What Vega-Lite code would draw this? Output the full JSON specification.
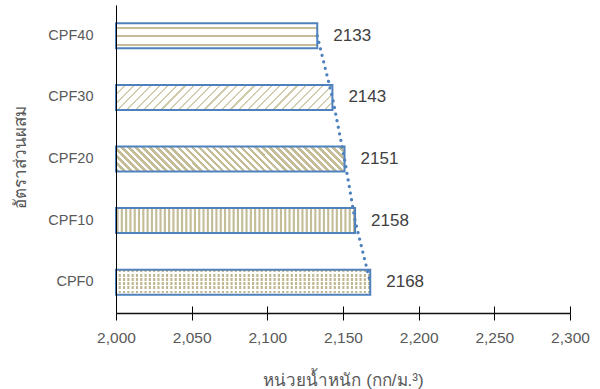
{
  "$schema": "https://vega.github.io/schema/vega-lite/v6.json",
  "width": 454,
  "height": 308,
  "autosize": {"type": "none"},
  "padding": {"left": 116, "top": 5, "right": 30, "bottom": 76},
  "background": "white",
  "config": {
    "view": {"stroke": null},
    "font": "Liberation Sans"
  },
  "data": {
    "values": [
      {"cat": "CPF0", "value": 2168},
      {"cat": "CPF10", "value": 2158},
      {"cat": "CPF20", "value": 2151},
      {"cat": "CPF30", "value": 2143},
      {"cat": "CPF40", "value": 2133}
    ]
  },
  "encoding": {
    "y": {
      "field": "cat",
      "type": "nominal",
      "sort": ["CPF40", "CPF30", "CPF20", "CPF10", "CPF0"],
      "scale": {"paddingInner": 0.5942, "paddingOuter": 0.2971},
      "axis": {
        "title": "อัตราส่วนผสม",
        "ticks": false,
        "domainColor": "#000",
        "labelPadding": 23,
        "labelFontSize": 14.5,
        "labelColor": "#595959",
        "titleFontSize": 17,
        "titleColor": "#595959",
        "titleFontWeight": "normal",
        "titleX": -96,
        "titleY": 152,
        "titleAngle": 270,
        "titleAlign": "center",
        "titleBaseline": "middle",
        "zindex": 1
      }
    },
    "x": {
      "field": "value",
      "type": "quantitative",
      "scale": {"domain": [2000, 2300], "nice": false, "zero": false},
      "axis": {
        "title": "หน่วยน้ำหนัก (กก/ม.³)",
        "values": [2000, 2050, 2100, 2150, 2200, 2250, 2300],
        "format": ",.0f",
        "domain": true,
        "domainWidth": 1.5,
        "domainColor": "#111",
        "grid": true,
        "gridColor": "#000",
        "gridDash": [7, 1000],
        "tickColor": "#000",
        "tickSize": 7,
        "labelFlush": false,
        "labelPadding": 10,
        "labelFontSize": 15.5,
        "labelColor": "#595959",
        "titleFontSize": 17,
        "titleColor": "#595959",
        "titleFontWeight": "normal",
        "titleX": 227,
        "titleY": 72,
        "titleAlign": "center",
        "titleBaseline": "alphabetic",
        "zindex": 1
      }
    }
  },
  "layer": [
    {
      "transform": [{"filter": "datum.cat === 'CPF40'"}],
      "mark": {
        "type": "bar",
        "fill": {
          "gradient": "linear", "x1": 0, "y1": 0, "x2": 0, "y2": 1,
          "stops": [
            {"offset": 0, "color": "#fff"}, {"offset": 0.13, "color": "#fff"},
            {"offset": 0.13, "color": "#c4bd97"}, {"offset": 0.21, "color": "#c4bd97"},
            {"offset": 0.21, "color": "#fff"}, {"offset": 0.47, "color": "#fff"},
            {"offset": 0.47, "color": "#c4bd97"}, {"offset": 0.55, "color": "#c4bd97"},
            {"offset": 0.55, "color": "#fff"}, {"offset": 0.81, "color": "#fff"},
            {"offset": 0.81, "color": "#c4bd97"}, {"offset": 0.89, "color": "#c4bd97"},
            {"offset": 0.89, "color": "#fff"}, {"offset": 1, "color": "#fff"}
          ]
        }
      },
      "encoding": {"x2": {"datum": 2000}}
    },
    {
      "transform": [{"filter": "datum.cat === 'CPF30'"}],
      "mark": {
        "type": "bar",
        "fill": {
          "gradient": "linear", "x1": 0, "y1": 0, "x2": 1.1008, "y2": 0.1271,
          "stops": [
            {"offset": 0, "color": "#d3cdb0"}, {"offset": 0.0089, "color": "#d3cdb0"}, {"offset": 0.0089, "color": "#fff"},
            {"offset": 0.0357, "color": "#fff"}, {"offset": 0.0357, "color": "#d3cdb0"}, {"offset": 0.0446, "color": "#d3cdb0"}, {"offset": 0.0446, "color": "#fff"},
            {"offset": 0.0714, "color": "#fff"}, {"offset": 0.0714, "color": "#d3cdb0"}, {"offset": 0.0804, "color": "#d3cdb0"}, {"offset": 0.0804, "color": "#fff"},
            {"offset": 0.1071, "color": "#fff"}, {"offset": 0.1071, "color": "#d3cdb0"}, {"offset": 0.1161, "color": "#d3cdb0"}, {"offset": 0.1161, "color": "#fff"},
            {"offset": 0.1429, "color": "#fff"}, {"offset": 0.1429, "color": "#d3cdb0"}, {"offset": 0.1518, "color": "#d3cdb0"}, {"offset": 0.1518, "color": "#fff"},
            {"offset": 0.1786, "color": "#fff"}, {"offset": 0.1786, "color": "#d3cdb0"}, {"offset": 0.1875, "color": "#d3cdb0"}, {"offset": 0.1875, "color": "#fff"},
            {"offset": 0.2143, "color": "#fff"}, {"offset": 0.2143, "color": "#d3cdb0"}, {"offset": 0.2232, "color": "#d3cdb0"}, {"offset": 0.2232, "color": "#fff"},
            {"offset": 0.25, "color": "#fff"}, {"offset": 0.25, "color": "#d3cdb0"}, {"offset": 0.2589, "color": "#d3cdb0"}, {"offset": 0.2589, "color": "#fff"},
            {"offset": 0.2857, "color": "#fff"}, {"offset": 0.2857, "color": "#d3cdb0"}, {"offset": 0.2946, "color": "#d3cdb0"}, {"offset": 0.2946, "color": "#fff"},
            {"offset": 0.3214, "color": "#fff"}, {"offset": 0.3214, "color": "#d3cdb0"}, {"offset": 0.3304, "color": "#d3cdb0"}, {"offset": 0.3304, "color": "#fff"},
            {"offset": 0.3571, "color": "#fff"}, {"offset": 0.3571, "color": "#d3cdb0"}, {"offset": 0.3661, "color": "#d3cdb0"}, {"offset": 0.3661, "color": "#fff"},
            {"offset": 0.3929, "color": "#fff"}, {"offset": 0.3929, "color": "#d3cdb0"}, {"offset": 0.4018, "color": "#d3cdb0"}, {"offset": 0.4018, "color": "#fff"},
            {"offset": 0.4286, "color": "#fff"}, {"offset": 0.4286, "color": "#d3cdb0"}, {"offset": 0.4375, "color": "#d3cdb0"}, {"offset": 0.4375, "color": "#fff"},
            {"offset": 0.4643, "color": "#fff"}, {"offset": 0.4643, "color": "#d3cdb0"}, {"offset": 0.4732, "color": "#d3cdb0"}, {"offset": 0.4732, "color": "#fff"},
            {"offset": 0.5, "color": "#fff"}, {"offset": 0.5, "color": "#d3cdb0"}, {"offset": 0.5089, "color": "#d3cdb0"}, {"offset": 0.5089, "color": "#fff"},
            {"offset": 0.5357, "color": "#fff"}, {"offset": 0.5357, "color": "#d3cdb0"}, {"offset": 0.5446, "color": "#d3cdb0"}, {"offset": 0.5446, "color": "#fff"},
            {"offset": 0.5714, "color": "#fff"}, {"offset": 0.5714, "color": "#d3cdb0"}, {"offset": 0.5804, "color": "#d3cdb0"}, {"offset": 0.5804, "color": "#fff"},
            {"offset": 0.6071, "color": "#fff"}, {"offset": 0.6071, "color": "#d3cdb0"}, {"offset": 0.6161, "color": "#d3cdb0"}, {"offset": 0.6161, "color": "#fff"},
            {"offset": 0.6429, "color": "#fff"}, {"offset": 0.6429, "color": "#d3cdb0"}, {"offset": 0.6518, "color": "#d3cdb0"}, {"offset": 0.6518, "color": "#fff"},
            {"offset": 0.6786, "color": "#fff"}, {"offset": 0.6786, "color": "#d3cdb0"}, {"offset": 0.6875, "color": "#d3cdb0"}, {"offset": 0.6875, "color": "#fff"},
            {"offset": 0.7143, "color": "#fff"}, {"offset": 0.7143, "color": "#d3cdb0"}, {"offset": 0.7232, "color": "#d3cdb0"}, {"offset": 0.7232, "color": "#fff"},
            {"offset": 0.75, "color": "#fff"}, {"offset": 0.75, "color": "#d3cdb0"}, {"offset": 0.7589, "color": "#d3cdb0"}, {"offset": 0.7589, "color": "#fff"},
            {"offset": 0.7857, "color": "#fff"}, {"offset": 0.7857, "color": "#d3cdb0"}, {"offset": 0.7946, "color": "#d3cdb0"}, {"offset": 0.7946, "color": "#fff"},
            {"offset": 0.8214, "color": "#fff"}, {"offset": 0.8214, "color": "#d3cdb0"}, {"offset": 0.8304, "color": "#d3cdb0"}, {"offset": 0.8304, "color": "#fff"},
            {"offset": 0.8571, "color": "#fff"}, {"offset": 0.8571, "color": "#d3cdb0"}, {"offset": 0.8661, "color": "#d3cdb0"}, {"offset": 0.8661, "color": "#fff"},
            {"offset": 0.8929, "color": "#fff"}, {"offset": 0.8929, "color": "#d3cdb0"}, {"offset": 0.9018, "color": "#d3cdb0"}, {"offset": 0.9018, "color": "#fff"},
            {"offset": 0.9286, "color": "#fff"}, {"offset": 0.9286, "color": "#d3cdb0"}, {"offset": 0.9375, "color": "#d3cdb0"}, {"offset": 0.9375, "color": "#fff"},
            {"offset": 0.9643, "color": "#fff"}, {"offset": 0.9643, "color": "#d3cdb0"}, {"offset": 0.9732, "color": "#d3cdb0"}, {"offset": 0.9732, "color": "#fff"},
            {"offset": 1, "color": "#fff"}
          ]
        }
      },
      "encoding": {"x2": {"datum": 2000}}
    },
    {
      "transform": [{"filter": "datum.cat === 'CPF20'"}],
      "mark": {
        "type": "bar",
        "fill": {
          "gradient": "linear", "x1": 0, "y1": 1, "x2": 1.0963, "y2": 0.8801,
          "stops": [
            {"offset": 0, "color": "#c4bd97"},
            {"offset": 0.0139, "color": "#c4bd97"}, {"offset": 0.0139, "color": "#fff"},
            {"offset": 0.0278, "color": "#fff"}, {"offset": 0.0278, "color": "#c4bd97"},
            {"offset": 0.0417, "color": "#c4bd97"}, {"offset": 0.0417, "color": "#fff"},
            {"offset": 0.0556, "color": "#fff"}, {"offset": 0.0556, "color": "#c4bd97"},
            {"offset": 0.0694, "color": "#c4bd97"}, {"offset": 0.0694, "color": "#fff"},
            {"offset": 0.0833, "color": "#fff"}, {"offset": 0.0833, "color": "#c4bd97"},
            {"offset": 0.0972, "color": "#c4bd97"}, {"offset": 0.0972, "color": "#fff"},
            {"offset": 0.1111, "color": "#fff"}, {"offset": 0.1111, "color": "#c4bd97"},
            {"offset": 0.125, "color": "#c4bd97"}, {"offset": 0.125, "color": "#fff"},
            {"offset": 0.1389, "color": "#fff"}, {"offset": 0.1389, "color": "#c4bd97"},
            {"offset": 0.1528, "color": "#c4bd97"}, {"offset": 0.1528, "color": "#fff"},
            {"offset": 0.1667, "color": "#fff"}, {"offset": 0.1667, "color": "#c4bd97"},
            {"offset": 0.1806, "color": "#c4bd97"}, {"offset": 0.1806, "color": "#fff"},
            {"offset": 0.1944, "color": "#fff"}, {"offset": 0.1944, "color": "#c4bd97"},
            {"offset": 0.2083, "color": "#c4bd97"}, {"offset": 0.2083, "color": "#fff"},
            {"offset": 0.2222, "color": "#fff"}, {"offset": 0.2222, "color": "#c4bd97"},
            {"offset": 0.2361, "color": "#c4bd97"}, {"offset": 0.2361, "color": "#fff"},
            {"offset": 0.25, "color": "#fff"}, {"offset": 0.25, "color": "#c4bd97"},
            {"offset": 0.2639, "color": "#c4bd97"}, {"offset": 0.2639, "color": "#fff"},
            {"offset": 0.2778, "color": "#fff"}, {"offset": 0.2778, "color": "#c4bd97"},
            {"offset": 0.2917, "color": "#c4bd97"}, {"offset": 0.2917, "color": "#fff"},
            {"offset": 0.3056, "color": "#fff"}, {"offset": 0.3056, "color": "#c4bd97"},
            {"offset": 0.3194, "color": "#c4bd97"}, {"offset": 0.3194, "color": "#fff"},
            {"offset": 0.3333, "color": "#fff"}, {"offset": 0.3333, "color": "#c4bd97"},
            {"offset": 0.3472, "color": "#c4bd97"}, {"offset": 0.3472, "color": "#fff"},
            {"offset": 0.3611, "color": "#fff"}, {"offset": 0.3611, "color": "#c4bd97"},
            {"offset": 0.375, "color": "#c4bd97"}, {"offset": 0.375, "color": "#fff"},
            {"offset": 0.3889, "color": "#fff"}, {"offset": 0.3889, "color": "#c4bd97"},
            {"offset": 0.4028, "color": "#c4bd97"}, {"offset": 0.4028, "color": "#fff"},
            {"offset": 0.4167, "color": "#fff"}, {"offset": 0.4167, "color": "#c4bd97"},
            {"offset": 0.4306, "color": "#c4bd97"}, {"offset": 0.4306, "color": "#fff"},
            {"offset": 0.4444, "color": "#fff"}, {"offset": 0.4444, "color": "#c4bd97"},
            {"offset": 0.4583, "color": "#c4bd97"}, {"offset": 0.4583, "color": "#fff"},
            {"offset": 0.4722, "color": "#fff"}, {"offset": 0.4722, "color": "#c4bd97"},
            {"offset": 0.4861, "color": "#c4bd97"}, {"offset": 0.4861, "color": "#fff"},
            {"offset": 0.5, "color": "#fff"}, {"offset": 0.5, "color": "#c4bd97"},
            {"offset": 0.5139, "color": "#c4bd97"}, {"offset": 0.5139, "color": "#fff"},
            {"offset": 0.5278, "color": "#fff"}, {"offset": 0.5278, "color": "#c4bd97"},
            {"offset": 0.5417, "color": "#c4bd97"}, {"offset": 0.5417, "color": "#fff"},
            {"offset": 0.5556, "color": "#fff"}, {"offset": 0.5556, "color": "#c4bd97"},
            {"offset": 0.5694, "color": "#c4bd97"}, {"offset": 0.5694, "color": "#fff"},
            {"offset": 0.5833, "color": "#fff"}, {"offset": 0.5833, "color": "#c4bd97"},
            {"offset": 0.5972, "color": "#c4bd97"}, {"offset": 0.5972, "color": "#fff"},
            {"offset": 0.6111, "color": "#fff"}, {"offset": 0.6111, "color": "#c4bd97"},
            {"offset": 0.625, "color": "#c4bd97"}, {"offset": 0.625, "color": "#fff"},
            {"offset": 0.6389, "color": "#fff"}, {"offset": 0.6389, "color": "#c4bd97"},
            {"offset": 0.6528, "color": "#c4bd97"}, {"offset": 0.6528, "color": "#fff"},
            {"offset": 0.6667, "color": "#fff"}, {"offset": 0.6667, "color": "#c4bd97"},
            {"offset": 0.6806, "color": "#c4bd97"}, {"offset": 0.6806, "color": "#fff"},
            {"offset": 0.6944, "color": "#fff"}, {"offset": 0.6944, "color": "#c4bd97"},
            {"offset": 0.7083, "color": "#c4bd97"}, {"offset": 0.7083, "color": "#fff"},
            {"offset": 0.7222, "color": "#fff"}, {"offset": 0.7222, "color": "#c4bd97"},
            {"offset": 0.7361, "color": "#c4bd97"}, {"offset": 0.7361, "color": "#fff"},
            {"offset": 0.75, "color": "#fff"}, {"offset": 0.75, "color": "#c4bd97"},
            {"offset": 0.7639, "color": "#c4bd97"}, {"offset": 0.7639, "color": "#fff"},
            {"offset": 0.7778, "color": "#fff"}, {"offset": 0.7778, "color": "#c4bd97"},
            {"offset": 0.7917, "color": "#c4bd97"}, {"offset": 0.7917, "color": "#fff"},
            {"offset": 0.8056, "color": "#fff"}, {"offset": 0.8056, "color": "#c4bd97"},
            {"offset": 0.8194, "color": "#c4bd97"}, {"offset": 0.8194, "color": "#fff"},
            {"offset": 0.8333, "color": "#fff"}, {"offset": 0.8333, "color": "#c4bd97"},
            {"offset": 0.8472, "color": "#c4bd97"}, {"offset": 0.8472, "color": "#fff"},
            {"offset": 0.8611, "color": "#fff"}, {"offset": 0.8611, "color": "#c4bd97"},
            {"offset": 0.875, "color": "#c4bd97"}, {"offset": 0.875, "color": "#fff"},
            {"offset": 0.8889, "color": "#fff"}, {"offset": 0.8889, "color": "#c4bd97"},
            {"offset": 0.9028, "color": "#c4bd97"}, {"offset": 0.9028, "color": "#fff"},
            {"offset": 0.9167, "color": "#fff"}, {"offset": 0.9167, "color": "#c4bd97"},
            {"offset": 0.9306, "color": "#c4bd97"}, {"offset": 0.9306, "color": "#fff"},
            {"offset": 0.9444, "color": "#fff"}, {"offset": 0.9444, "color": "#c4bd97"},
            {"offset": 0.9583, "color": "#c4bd97"}, {"offset": 0.9583, "color": "#fff"},
            {"offset": 0.9722, "color": "#fff"}, {"offset": 0.9722, "color": "#c4bd97"},
            {"offset": 0.9861, "color": "#c4bd97"}, {"offset": 0.9861, "color": "#fff"},
            {"offset": 1, "color": "#fff"}
          ]
        }
      },
      "encoding": {"x2": {"datum": 2000}}
    },
    {
      "transform": [{"filter": "datum.cat === 'CPF10'"}],
      "mark": {"type": "rule", "color": "#c4bd97", "strokeWidth": 25, "strokeDash": [2.15, 2.15]},
      "encoding": {"x2": {"datum": 2000}}
    },
    {
      "transform": [{"filter": "datum.cat === 'CPF0'"}],
      "mark": {"type": "rule", "color": "#bfb78f", "strokeWidth": 25, "strokeDash": [2.15, 2.15]},
      "encoding": {"x2": {"datum": 2000}}
    },
    {
      "transform": [{"filter": "datum.cat === 'CPF0'"}],
      "mark": {
        "type": "bar",
        "fill": {
          "gradient": "linear", "x1": 0, "y1": 0, "x2": 0, "y2": 1,
          "stops": [
            {"offset": 0, "color": "rgba(255,255,255,0)"}, {"offset": 0.1067, "color": "rgba(255,255,255,0)"},
            {"offset": 0.1067, "color": "#fff"}, {"offset": 0.1667, "color": "#fff"},
            {"offset": 0.1667, "color": "rgba(255,255,255,0)"}, {"offset": 0.2733, "color": "rgba(255,255,255,0)"},
            {"offset": 0.2733, "color": "#fff"}, {"offset": 0.3333, "color": "#fff"},
            {"offset": 0.3333, "color": "rgba(255,255,255,0)"}, {"offset": 0.44, "color": "rgba(255,255,255,0)"},
            {"offset": 0.44, "color": "#fff"}, {"offset": 0.5, "color": "#fff"},
            {"offset": 0.5, "color": "rgba(255,255,255,0)"}, {"offset": 0.6067, "color": "rgba(255,255,255,0)"},
            {"offset": 0.6067, "color": "#fff"}, {"offset": 0.6667, "color": "#fff"},
            {"offset": 0.6667, "color": "rgba(255,255,255,0)"}, {"offset": 0.7733, "color": "rgba(255,255,255,0)"},
            {"offset": 0.7733, "color": "#fff"}, {"offset": 0.8333, "color": "#fff"},
            {"offset": 0.8333, "color": "rgba(255,255,255,0)"}, {"offset": 0.94, "color": "rgba(255,255,255,0)"},
            {"offset": 0.94, "color": "#fff"}, {"offset": 1, "color": "#fff"}
          ]
        }
      },
      "encoding": {"x2": {"datum": 2000}}
    },
    {
      "mark": {"type": "bar", "filled": false, "color": "#4f81bd", "strokeWidth": 2},
      "encoding": {"x2": {"datum": 2000}}
    },
    {
      "mark": {"type": "line", "color": "#4f81bd", "strokeWidth": 3.2, "strokeCap": "round", "strokeDash": [0.1, 6.6]}
    },
    {
      "mark": {"type": "text", "align": "left", "baseline": "middle", "dx": 16, "fontSize": 17, "color": "#404040"},
      "encoding": {"text": {"field": "value", "type": "quantitative", "format": "d"}}
    }
  ]
}
